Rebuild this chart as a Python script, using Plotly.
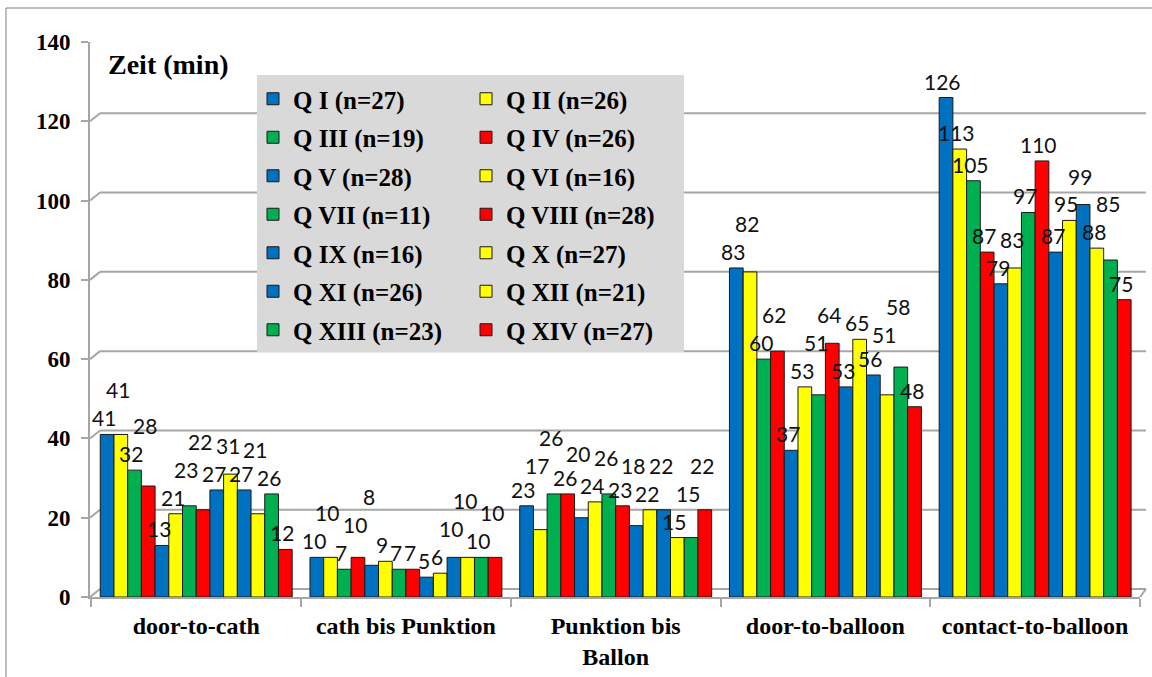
import plotly.graph_objects as go

# Category labels on the x axis
categories = ["door-to-cath", "cath bis Punktion", "Punktion bis<br>Ballon",
              "door-to-balloon", "contact-to-balloon"]

# Quarters and their patient counts
quarters = ["Q I", "Q II", "Q III", "Q IV", "Q V", "Q VI", "Q VII",
            "Q VIII", "Q IX", "Q X", "Q XI", "Q XII", "Q XIII", "Q XIV"]
n_patients = [27, 26, 19, 26, 28, 16, 11, 28, 16, 27, 26, 21, 23, 27]

# Median times (min) per interval, one value per quarter
door_to_cath = [41, 41, 32, 28, 13, 21, 23, 22, 27, 31, 27, 21, 26, 12]
cath_to_puncture = [10, 10, 7, 10, 8, 9, 7, 7, 5, 6, 10, 10, 10, 10]
puncture_to_balloon = [23, 17, 26, 26, 20, 24, 26, 23, 18, 22, 22, 15, 15, 22]
door_to_balloon = [83, 82, 60, 62, 37, 53, 51, 64, 53, 65, 56, 51, 58, 48]
contact_to_balloon = [126, 113, 105, 87, 79, 83, 97, 110, 87, 95, 99, 88, 85, 75]

y_ticks = [0, 20, 40, 60, 80, 100, 120, 140]
Y_MAX = 140

BLUE, YELLOW, GREEN, RED = "#0070C0", "#FFFF00", "#00B050", "#FF0000"
bar_colors = [BLUE, YELLOW, GREEN, RED, BLUE, YELLOW, GREEN, RED,
              BLUE, YELLOW, BLUE, YELLOW, GREEN, RED]

SERIF = "Liberation Serif, Times New Roman, serif"
SANS = "Lato, Liberation Sans, sans-serif"
GRID = "#A6A6A6"

W, H = 1152, 677
ML, MR, MT, MB = 90, 12, 42, 80
PW, PH = W - ML - MR, H - MT - MB
BARGAP = 0.085
n_series = len(quarters)
bar_px = PW / len(categories) * (1 - BARGAP) / n_series   # width of one bar in pixels
LABEL_SIZE = 21
DIGIT_PX = 0.58 * LABEL_SIZE
LABEL_H = 1.15 * LABEL_SIZE

series_values = []
for i in range(n_series):
    series_values.append([door_to_cath[i], cath_to_puncture[i], puncture_to_balloon[i],
                          door_to_balloon[i], contact_to_balloon[i]])

fig = go.Figure()
for i, q in enumerate(quarters):
    fig.add_trace(go.Bar(
        x=categories, y=series_values[i],
        name=f"{q} (n={n_patients[i]})",
        legend="legend" if i % 2 == 0 else "legend2",
        legendgroup=q,
        marker=dict(color=bar_colors[i], line=dict(color="#1a1a1a", width=1)),
    ))

# Value labels: placed left to right within each group, lifted to the
# lowest free row so that neighbouring numbers stay readable.
annotations = []
for j, cat in enumerate(categories):
    placed = []   # (x0, x1, y0, y1) in pixels, y measured upwards from the axis
    for i in range(n_series):
        v = series_values[i][j]
        text = str(v)
        xs = (i - (n_series - 1) / 2) * bar_px - 3
        w = len(text) * DIGIT_PX
        base = v / Y_MAX * PH + 2
        lift = 0
        while True:
            box = (xs - w / 2, xs + w / 2, base + lift, base + lift + LABEL_H)
            clash = any(box[0] < p[1] and p[0] < box[1] and box[2] < p[3] and p[2] < box[3]
                        for p in placed)
            if not clash:
                break
            lift += 4
        placed.append(box)
        annotations.append(dict(
            x=cat, y=v, xref="x", yref="y", text=text, showarrow=False,
            xshift=xs, yshift=2 + lift, yanchor="bottom",
            font=dict(family=SANS, size=LABEL_SIZE, color="#111111"),
        ))

annotations.append(dict(text="<b>Zeit (min)</b>", xref="paper", yref="paper",
                        x=(106 - ML) / PW, y=(H - MB - 64) / PH, xanchor="left",
                        yanchor="middle", showarrow=False,
                        font=dict(family=SERIF, size=28, color="black")))

# Back-wall gridlines (shifted to give the 3D wall look)
dx = 10 / PW                      # horizontal depth offset in paper units
dy = 8 / PH * Y_MAX               # vertical depth offset in data units
shapes = []
for v in y_ticks:
    shapes.append(dict(type="line", xref="paper", yref="y", x0=dx, x1=1.0 + dx * 0.6,
                       y0=v + dy, y1=v + dy, line=dict(color=GRID, width=2), layer="below"))
    shapes.append(dict(type="line", xref="paper", yref="y", x0=0, x1=dx,
                       y0=v, y1=v + dy, line=dict(color=GRID, width=2), layer="below"))
# Right floor corner
shapes.append(dict(type="line", xref="paper", yref="y", x0=1.0, x1=1.0 + dx * 0.6,
                   y0=0, y1=dy, line=dict(color=GRID, width=2), layer="below"))
# Legend panel
shapes.append(dict(type="rect", xref="paper", yref="paper",
                   x0=(257 - ML) / PW, x1=(684 - ML) / PW,
                   y0=(H - MB - 352) / PH, y1=(H - MB - 75) / PH,
                   fillcolor="#D9D9D9", line=dict(width=0), layer="above"))
# Outer frame
shapes.append(dict(type="rect", xref="paper", yref="paper",
                   x0=(6 - ML) / PW, x1=(W + 5 - ML) / PW,
                   y0=-(MB + 5) / PH, y1=(H - MB - 8) / PH,
                   line=dict(color="#7F7F7F", width=1), fillcolor="rgba(0,0,0,0)"))

legend_font = dict(family=SERIF, size=25, color="black", weight="bold")
fig.update_layout(
    width=W, height=H,
    margin=dict(l=ML, r=MR, t=MT, b=MB, autoexpand=False),
    paper_bgcolor="white", plot_bgcolor="rgba(0,0,0,0)",
    barmode="group", bargap=BARGAP, bargroupgap=0,
    shapes=shapes, annotations=annotations,
    legend=dict(x=(253 - ML) / PW, y=(H - MB - 76) / PH, xanchor="left", yanchor="top",
                bgcolor="rgba(0,0,0,0)", font=legend_font, traceorder="grouped",
                tracegroupgap=3, itemwidth=30),
    legend2=dict(x=(466 - ML) / PW, y=(H - MB - 76) / PH, xanchor="left", yanchor="top",
                 bgcolor="rgba(0,0,0,0)", font=legend_font, traceorder="grouped",
                 tracegroupgap=3, itemwidth=30),
    xaxis=dict(showgrid=False, showline=True, linecolor=GRID, linewidth=2, automargin=False,
               ticks="outside", tickson="boundaries", ticklen=8, tickcolor=GRID, tickwidth=2,
               ticklabelstandoff=6,
               tickfont=dict(family=SERIF, size=24, color="black", weight="bold")),
    yaxis=dict(range=[0, Y_MAX], tickvals=y_ticks, showgrid=False, zeroline=False,
               showline=True, linecolor=GRID, linewidth=2, automargin=False,
               ticks="outside", ticklen=7, tickcolor=GRID, tickwidth=2,
               ticklabelstandoff=6,
               tickfont=dict(family=SERIF, size=23, color="black", weight="bold")),
)

fig.write_html("out.html")
